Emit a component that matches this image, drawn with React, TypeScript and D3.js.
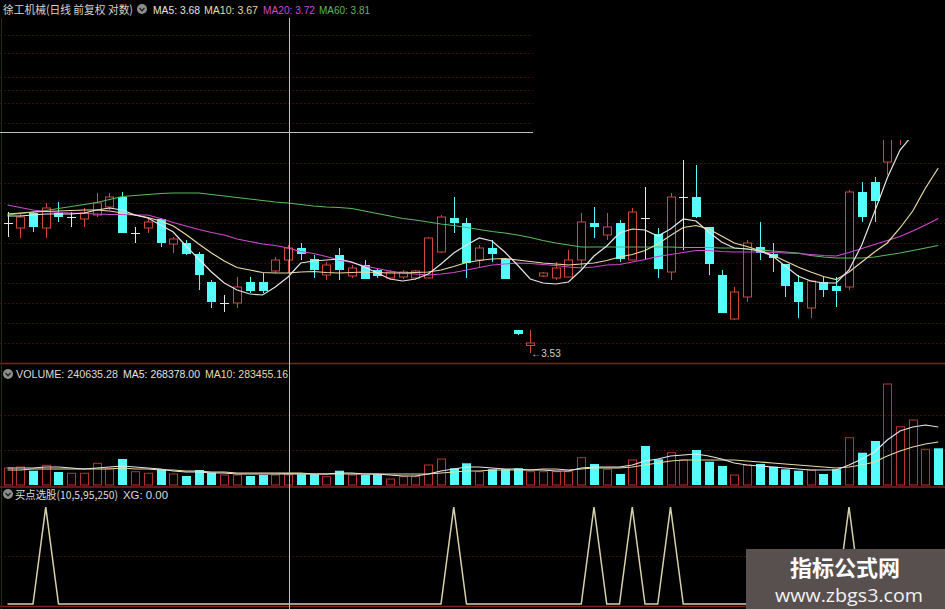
import React from 'react';
import * as d3 from 'd3';

const W = 945;
const H = 609;

// ---- Candles (price) ----
const opens = [
  3.790, 3.780, 3.810, 3.780, 3.810, 3.802, 3.798, 3.806, 3.822, 3.842,
  3.770, 3.780, 3.798, 3.748, 3.750, 3.728, 3.672, 3.630, 3.630, 3.672,
  3.672, 3.694, 3.716, 3.740, 3.718, 3.686, 3.726, 3.684, 3.706, 3.696,
  3.680, 3.682, 3.680, 3.680, 3.732, 3.800, 3.790, 3.716, 3.740, 3.718,
  3.576, 3.545, 3.684, 3.680, 3.682, 3.716, 3.790, 3.766, 3.790, 3.716,
  3.802, 3.768, 3.692, 3.842, 3.842, 3.782, 3.686, 3.598, 3.642, 3.742,
  3.728, 3.708, 3.672, 3.620, 3.672, 3.664, 3.662, 3.852, 3.872, 3.912,
  3.970, 4.010, 4.020, 4.040,
];
const highs = [
  3.812, 3.810, 3.812, 3.830, 3.832, 3.812, 3.820, 3.850, 3.850, 3.852,
  3.782, 3.800, 3.800, 3.762, 3.756, 3.732, 3.676, 3.646, 3.682, 3.682,
  3.690, 3.722, 3.746, 3.750, 3.726, 3.712, 3.740, 3.706, 3.716, 3.700,
  3.696, 3.696, 3.696, 3.762, 3.806, 3.842, 3.800, 3.746, 3.756, 3.720,
  3.576, 3.576, 3.692, 3.712, 3.736, 3.810, 3.822, 3.810, 3.796, 3.820,
  3.862, 3.780, 3.850, 3.916, 3.906, 3.782, 3.696, 3.662, 3.756, 3.792,
  3.750, 3.708, 3.686, 3.676, 3.682, 3.682, 3.856, 3.872, 3.882, 3.990,
  4.050, 4.080, 4.090, 4.060,
];
const lows = [
  3.762, 3.760, 3.772, 3.760, 3.792, 3.782, 3.782, 3.802, 3.816, 3.770,
  3.750, 3.770, 3.742, 3.730, 3.726, 3.656, 3.620, 3.612, 3.620, 3.650,
  3.650, 3.690, 3.690, 3.716, 3.680, 3.676, 3.676, 3.680, 3.678, 3.680,
  3.676, 3.678, 3.676, 3.680, 3.730, 3.770, 3.680, 3.700, 3.712, 3.678,
  3.566, 3.530, 3.682, 3.676, 3.682, 3.700, 3.760, 3.756, 3.712, 3.716,
  3.716, 3.680, 3.676, 3.736, 3.800, 3.686, 3.610, 3.596, 3.632, 3.716,
  3.692, 3.642, 3.600, 3.600, 3.642, 3.622, 3.656, 3.792, 3.792, 3.886,
  3.946, 4.000, 4.010, 4.000,
];
const closes = [
  3.790, 3.802, 3.782, 3.820, 3.802, 3.802, 3.810, 3.830, 3.842, 3.770,
  3.770, 3.792, 3.750, 3.758, 3.728, 3.686, 3.632, 3.630, 3.662, 3.654,
  3.654, 3.716, 3.740, 3.728, 3.696, 3.706, 3.696, 3.700, 3.678, 3.684,
  3.692, 3.692, 3.694, 3.760, 3.802, 3.790, 3.710, 3.740, 3.728, 3.678,
  3.568, 3.550, 3.690, 3.700, 3.716, 3.792, 3.782, 3.782, 3.718, 3.812,
  3.800, 3.698, 3.842, 3.842, 3.802, 3.708, 3.610, 3.652, 3.750, 3.730,
  3.720, 3.664, 3.632, 3.674, 3.656, 3.654, 3.852, 3.802, 3.834, 3.960,
  4.020, 4.060, 4.060, 4.010,
];

// ---- Price moving averages ----
const ma5 = [
  3.804, 3.804, 3.806, 3.808, 3.808, 3.808, 3.810, 3.816, 3.820, 3.816,
  3.806, 3.800, 3.786, 3.772, 3.744, 3.718, 3.692, 3.670, 3.656, 3.648,
  3.646, 3.662, 3.682, 3.710, 3.714, 3.716, 3.718, 3.712, 3.702, 3.690,
  3.678, 3.674, 3.678, 3.688, 3.708, 3.730, 3.746, 3.760, 3.754, 3.732,
  3.706, 3.678, 3.670, 3.668, 3.672, 3.696, 3.724, 3.744, 3.770, 3.778,
  3.776, 3.764, 3.778, 3.798, 3.794, 3.772, 3.752, 3.740, 3.738, 3.734,
  3.724, 3.704, 3.684, 3.674, 3.670, 3.670, 3.696, 3.746, 3.812, 3.880,
  3.936, 3.966, 4.016, 4.056,
];
const ma10 = [
  3.808, 3.810, 3.812, 3.813, 3.814, 3.815, 3.816, 3.816, 3.814, 3.810,
  3.806, 3.801, 3.794, 3.784, 3.767, 3.748, 3.730, 3.714, 3.701, 3.696,
  3.691, 3.690, 3.690, 3.692, 3.693, 3.691, 3.690, 3.691, 3.692, 3.691,
  3.690, 3.690, 3.691, 3.692, 3.696, 3.703, 3.711, 3.715, 3.718, 3.719,
  3.716, 3.713, 3.710, 3.708, 3.706, 3.708, 3.710, 3.715, 3.722, 3.727,
  3.735, 3.748, 3.765, 3.781, 3.785, 3.778, 3.764, 3.750, 3.743, 3.735,
  3.726, 3.714, 3.702, 3.692, 3.683, 3.677, 3.692, 3.712, 3.732, 3.750,
  3.780, 3.814, 3.860, 3.900,
];
const ma20 = [
  3.826, 3.821, 3.816, 3.813, 3.811, 3.810, 3.809, 3.808, 3.807, 3.807,
  3.806, 3.806, 3.799, 3.791, 3.784, 3.777, 3.771, 3.766, 3.758, 3.753,
  3.748, 3.745, 3.740, 3.733, 3.729, 3.723, 3.716, 3.711, 3.704, 3.699,
  3.694, 3.690, 3.688, 3.686, 3.688, 3.691, 3.696, 3.701, 3.706, 3.708,
  3.710, 3.709, 3.707, 3.705, 3.702, 3.700, 3.702, 3.706, 3.707, 3.712,
  3.717, 3.723, 3.727, 3.731, 3.735, 3.735, 3.733, 3.732, 3.732, 3.732,
  3.731, 3.730, 3.729, 3.727, 3.725, 3.724, 3.731, 3.739, 3.747, 3.755,
  3.763, 3.774, 3.786, 3.799,
];
const ma60 = [
  3.806, 3.809, 3.812, 3.815, 3.819, 3.823, 3.827, 3.831, 3.837, 3.843,
  3.845, 3.847, 3.849, 3.850, 3.850, 3.850, 3.847, 3.844, 3.841, 3.838,
  3.835, 3.832, 3.830, 3.827, 3.824, 3.822, 3.821, 3.819, 3.814, 3.809,
  3.804, 3.799, 3.796, 3.792, 3.788, 3.785, 3.781, 3.777, 3.773, 3.770,
  3.766, 3.761, 3.755, 3.750, 3.746, 3.742, 3.742, 3.742, 3.742, 3.742,
  3.742, 3.742, 3.742, 3.741, 3.741, 3.741, 3.740, 3.740, 3.738, 3.736,
  3.734, 3.732, 3.730, 3.725, 3.722, 3.720, 3.720, 3.720, 3.722, 3.726,
  3.730, 3.735, 3.740, 3.745,
];

// ---- Volume ----
const volumes = [
  408000, 432000, 343000, 473000, 312000, 281000, 281000, 521000, 401000, 624000,
  319000, 281000, 377000, 264000, 216000, 360000, 295000, 240000, 240000, 216000,
  240000, 240000, 240635, 257000, 257000, 199000, 343000, 240000, 240000, 257000,
  144000, 199000, 199000, 480000, 624000, 401000, 521000, 319000, 377000, 377000,
  401000, 319000, 319000, 319000, 319000, 655000, 504000, 377000, 264000, 600000,
  936000, 617000, 775000, 600000, 840000, 559000, 456000, 240000, 480000, 504000,
  439000, 377000, 343000, 360000, 264000, 377000, 1135000, 775000, 1056000, 2424000,
  1399000, 1560000, 857000, 881000,
];
const volMa5 = [
  408000, 408000, 408000, 432000, 432000, 408000, 384000, 408000, 432000, 456000,
  432000, 408000, 384000, 336000, 312000, 312000, 288000, 288000, 264000, 264000,
  264000, 264000, 268378, 264000, 264000, 264000, 288000, 288000, 264000, 264000,
  240000, 216000, 216000, 264000, 336000, 384000, 432000, 432000, 408000, 384000,
  384000, 360000, 360000, 336000, 336000, 408000, 432000, 432000, 432000, 480000,
  576000, 624000, 696000, 720000, 744000, 696000, 624000, 528000, 480000, 456000,
  432000, 408000, 384000, 360000, 360000, 360000, 480000, 624000, 792000, 1080000,
  1296000, 1392000, 1440000, 1392000,
];
const volMa10 = [
  360000, 360000, 384000, 384000, 384000, 384000, 384000, 384000, 384000, 408000,
  384000, 384000, 360000, 360000, 336000, 336000, 312000, 312000, 288000, 288000,
  288000, 288000, 283455, 288000, 264000, 264000, 264000, 264000, 264000, 264000,
  264000, 264000, 264000, 264000, 288000, 312000, 336000, 336000, 360000, 360000,
  360000, 360000, 384000, 384000, 360000, 384000, 408000, 408000, 408000, 432000,
  480000, 528000, 576000, 600000, 600000, 600000, 600000, 600000, 576000, 552000,
  528000, 504000, 480000, 456000, 432000, 408000, 432000, 480000, 552000, 696000,
  816000, 912000, 984000, 1032000,
];

// ---- 买点选股 XG signal ----
const xgSignal = [
  0, 0, 0, 1, 0, 0, 0, 0, 0, 0,
  0, 0, 0, 0, 0, 0, 0, 0, 0, 0,
  0, 0, 0, 0, 0, 0, 0, 0, 0, 0,
  0, 0, 0, 0, 0, 1, 0, 0, 0, 0,
  0, 0, 0, 0, 0, 0, 1, 0, 0, 1,
  0, 0, 1, 0, 0, 0, 0, 0, 0, 0,
  0, 0, 0, 0, 0, 0, 1, 0, 0, 0,
  0, 0, 0, 0,
];

// grid levels
const priceGrid = [3.55, 3.59, 3.63, 3.67, 3.71, 3.75, 3.79, 3.83, 3.87, 3.91];
const upperGrid = [3.99, 4.03, 4.056, 4.082, 4.13, 4.166];
const volGrid = [840000, 1680000];
const xgGrid = [0.5];

const crossIndex = 22;
const crossPrice = 3.972;
const lowIndex = 41;
const lowLabel = '3.53';

const titleName = '徐工机械(日线 前复权 对数)';
const maLabels = ['MA5: 3.68', 'MA10: 3.67', 'MA20: 3.72', 'MA60: 3.81'];
const volLabels = ['VOLUME: 240635.28', 'MA5: 268378.00', 'MA10: 283455.16'];
const xgTitle = '买点选股(10,5,95,250)';
const xgLabel = 'XG: 0.00';
const wmTitle = '指标公式网';
const wmUrl = 'www.zbgs3.com';

const RED = '#d2463c';
const VRED = '#b83430';
const CYAN = '#54fcfc';
const WHITE = '#e6e6e6';
const YEL = '#e8dca0';
const MAG = '#d048d0';
const GRN = '#5cb85c';
const GRID = '#3e0f0f';
const SEP = '#8a1e1e';

const FONT = '"Liberation Sans", Arial, sans-serif';
const CJK = '"Noto Sans CJK SC", "Liberation Sans", sans-serif';

const N = opens.length;
const x = d3.scaleLinear().domain([0, N - 1]).range([7.5, 938.25]);
const py = d3.scaleLinear().domain([3.53, 3.93]).range([353, 153]);
const vy = d3.scaleLinear().domain([0, 2928000]).range([485, 363]);
const gy = d3.scaleLinear().domain([0, 1]).range([604, 507]);

const px = (i: number) => Math.round(x(i)) + 0.5;

const priceLine = d3.line<number>().x((_, i) => x(i)).y((d) => py(d));
const volLine = d3.line<number>().x((_, i) => x(i)).y((d) => vy(d));
const xgLine = d3.line<number>().x((_, i) => x(i)).y((d) => gy(d));

function Icon({ cx, cy }: { cx: number; cy: number }) {
  return (
    <g>
      <circle cx={cx} cy={cy} r={5} fill="#8c8c8c" />
      <path d={`M${cx - 2.5},${cy - 1} L${cx},${cy + 1.8} L${cx + 2.5},${cy - 1}`} stroke="#222" strokeWidth={1.3} fill="none" />
    </g>
  );
}

function Label(props: { x: number; y: number; w: number; fill: string; size?: number; font?: string; children: string }) {
  return (
    <text
      x={props.x}
      y={props.y}
      fill={props.fill}
      fontSize={props.size ?? 11}
      fontFamily={props.font ?? FONT}
      textLength={props.w}
      lengthAdjust="spacingAndGlyphs"
    >
      {props.children}
    </text>
  );
}

export default function App() {
  const bw = 9;
  return (
    <svg width={W} height={H} style={{ position: 'absolute', left: 0, top: 0 }} xmlns="http://www.w3.org/2000/svg">
      <defs>
        <clipPath id="mainClip">
          <rect x={0} y={140} width={W} height={223} />
        </clipPath>
        <clipPath id="volClip">
          <rect x={0} y={364} width={W} height={122} />
        </clipPath>
      </defs>
      <rect x={0} y={0} width={W} height={H} fill="#000" />

      {/* grid */}
      {upperGrid.map((g) => (
        <line key={'u' + g} x1={0} x2={533} y1={Math.round(py(g)) + 0.5} y2={Math.round(py(g)) + 0.5} stroke={GRID} strokeDasharray="2,2" />
      ))}
      {priceGrid.map((g) => (
        <line key={'p' + g} x1={0} x2={W} y1={Math.round(py(g)) + 0.5} y2={Math.round(py(g)) + 0.5} stroke={GRID} strokeDasharray="2,2" />
      ))}
      {volGrid.map((g) => (
        <line key={'v' + g} x1={0} x2={W} y1={Math.round(vy(g)) + 0.5} y2={Math.round(vy(g)) + 0.5} stroke={GRID} strokeDasharray="2,2" />
      ))}
      {xgGrid.map((g) => (
        <line key={'g' + g} x1={0} x2={W} y1={Math.round(gy(g)) + 0.5} y2={Math.round(gy(g)) + 0.5} stroke={GRID} strokeDasharray="2,2" />
      ))}

      {/* panel separators */}
      <line x1={0} x2={W} y1={363.5} y2={363.5} stroke={SEP} strokeWidth={1.5} />
      <line x1={0} x2={W} y1={487} y2={487} stroke={SEP} strokeWidth={1.5} />
      <line x1={0} x2={W} y1={606.5} y2={606.5} stroke={SEP} strokeWidth={1.5} />
      <line x1={1.5} x2={1.5} y1={18} y2={H} stroke="#5a1414" />

      {/* candles */}
      <g clipPath="url(#mainClip)">
        {opens.map((o, i) => {
          const c = closes[i];
          const cx = px(i);
          const yh = py(highs[i]);
          const yl = py(lows[i]);
          if (Math.abs(c - o) < 0.003) {
            const yc = Math.round(py(c)) + 0.5;
            return (
              <g key={i} stroke={WHITE} strokeWidth={1}>
                <line x1={cx} x2={cx} y1={yh} y2={yl} />
                <line x1={cx - bw / 2} x2={cx + bw / 2} y1={yc} y2={yc} />
              </g>
            );
          }
          if (c > o) {
            const yt = py(c);
            const yb = py(o);
            return (
              <g key={i} stroke={RED} strokeWidth={1} fill="#000">
                <line x1={cx} x2={cx} y1={yh} y2={yt} />
                <line x1={cx} x2={cx} y1={yb} y2={yl} />
                <rect x={cx - bw / 2 + 0.5} y={yt} width={bw - 1} height={Math.max(1, yb - yt)} />
              </g>
            );
          }
          const yt = py(o);
          const yb = py(c);
          return (
            <g key={i}>
              <line x1={cx} x2={cx} y1={yh} y2={yl} stroke={CYAN} strokeWidth={1} />
              <rect x={cx - bw / 2} y={yt} width={bw} height={Math.max(1.5, yb - yt)} fill={CYAN} />
            </g>
          );
        })}
        <path d={priceLine(ma60) || ''} fill="none" stroke={GRN} strokeWidth={1.2} />
        <path d={priceLine(ma20) || ''} fill="none" stroke={MAG} strokeWidth={1.2} />
        <path d={priceLine(ma10) || ''} fill="none" stroke={YEL} strokeWidth={1.2} />
        <path d={priceLine(ma5) || ''} fill="none" stroke={WHITE} strokeWidth={1.2} />
      </g>

      {/* low marker */}
      <text x={x(lowIndex) + 1} y={py(lows[lowIndex]) + 4} fill="#d0d0d0" fontSize={10} fontFamily={FONT}>
        {'\u2190' + lowLabel}
      </text>

      {/* volume */}
      <g clipPath="url(#volClip)">
        {volumes.map((v, i) => {
          const cx = px(i);
          const up = closes[i] >= opens[i];
          const yt = vy(v);
          const yb = vy(0);
          return up ? (
            <rect key={i} x={cx - bw / 2 + 0.5} y={yt} width={bw - 1} height={yb - yt} fill="none" stroke={VRED} strokeWidth={1} />
          ) : (
            <rect key={i} x={cx - bw / 2} y={yt} width={bw} height={yb - yt} fill={CYAN} />
          );
        })}
        <path d={volLine(volMa10) || ''} fill="none" stroke={YEL} strokeWidth={1.2} />
        <path d={volLine(volMa5) || ''} fill="none" stroke={WHITE} strokeWidth={1.2} />
      </g>

      {/* XG indicator */}
      <path d={xgLine(xgSignal) || ''} fill="none" stroke="#d8d0aa" strokeWidth={1.5} />

      {/* crosshair */}
      <line x1={px(crossIndex) + 1} x2={px(crossIndex) + 1} y1={18} y2={H} stroke="#bdbdbd" strokeWidth={1} />
      <line x1={0} x2={533} y1={Math.round(py(crossPrice)) + 0.5} y2={Math.round(py(crossPrice)) + 0.5} stroke="#bdbdbd" strokeWidth={1.2} />

      {/* title row */}
      <Label x={3} y={14} w={130} fill="#d4d4d4" size={11.5} font={CJK}>{titleName}</Label>
      <Icon cx={142} cy={9} />
      <Label x={153} y={14} w={47} fill={WHITE}>{maLabels[0]}</Label>
      <Label x={204} y={14} w={54} fill={YEL}>{maLabels[1]}</Label>
      <Label x={263} y={14} w={52} fill={MAG}>{maLabels[2]}</Label>
      <Label x={319} y={14} w={51} fill={GRN}>{maLabels[3]}</Label>

      {/* volume header */}
      <Icon cx={8} cy={374} />
      <Label x={16} y={378} w={102} fill="#dcdcdc">{volLabels[0]}</Label>
      <Label x={123} y={378} w={77} fill={WHITE}>{volLabels[1]}</Label>
      <Label x={205} y={378} w={83} fill={YEL}>{volLabels[2]}</Label>

      {/* indicator header */}
      <Icon cx={8} cy={494} />
      <Label x={15} y={499} w={103} fill="#dcdcdc" font={CJK}>{xgTitle}</Label>
      <Label x={123} y={499} w={45} fill="#dcdcdc">{xgLabel}</Label>

      {/* watermark */}
      <rect x={746} y={549} width={W - 746} height={H - 549} fill="#584f4f" />
      <text x={845} y={576} fill="#ffffff" fontSize={22} fontWeight="bold" textAnchor="middle" fontFamily={CJK}>{wmTitle}</text>
      <text x={849} y={602} fill="#f2f2f2" fontSize={18} textAnchor="middle" textLength={148} lengthAdjust="spacingAndGlyphs" fontFamily='"Open Sans", "Liberation Sans", sans-serif'>{wmUrl}</text>
    </svg>
  );
}
